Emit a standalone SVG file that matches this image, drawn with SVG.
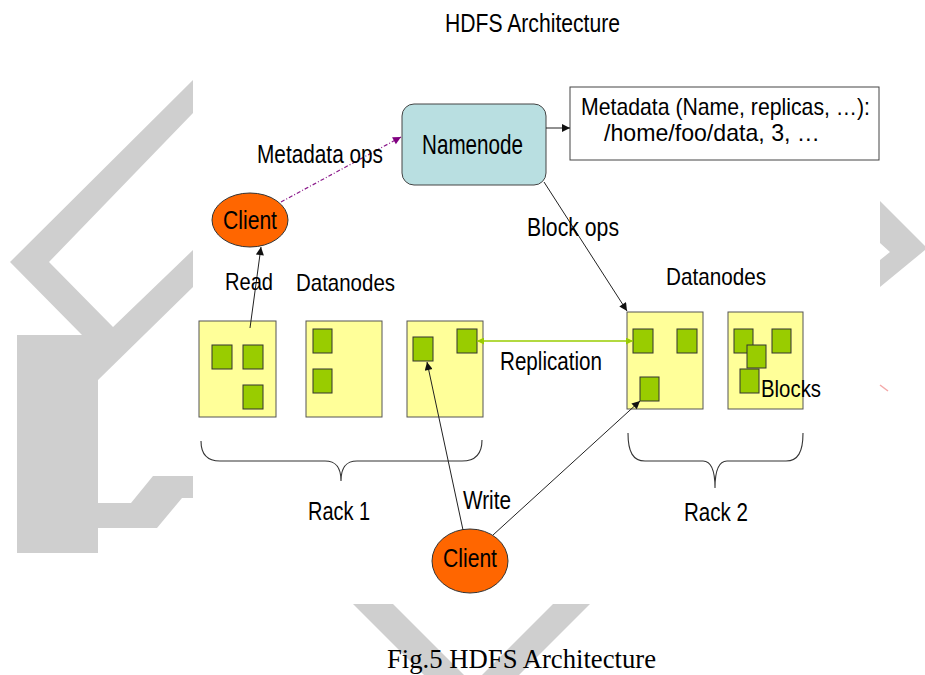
<svg xmlns="http://www.w3.org/2000/svg" width="925" height="675" viewBox="0 0 925 675">
<defs>
<style>
.wm{fill:#cfcfcf}
.lbl{font-family:"Liberation Sans",Arial,sans-serif;fill:#000}
.cap{font-family:"Liberation Serif","Times New Roman",serif;fill:#000}
.dn{fill:#ffff99;stroke:#555;stroke-width:1}
.blk{fill:#99cc00;stroke:#333;stroke-width:1}
.cl{fill:#ff6600;stroke:#333;stroke-width:1}
.ln{fill:none;stroke:#222;stroke-width:1}
.brace{fill:none;stroke:#333;stroke-width:1.1}
</style>
<marker id="ah" viewBox="0 0 10 10" refX="10" refY="5" markerWidth="10" markerHeight="8" markerUnits="userSpaceOnUse" orient="auto"><path d="M0,0 L10,5 L0,10 z" fill="#111"/></marker>
<marker id="ahp" viewBox="0 0 10 10" refX="10" refY="5" markerWidth="10" markerHeight="8" markerUnits="userSpaceOnUse" orient="auto"><path d="M0,0 L10,5 L0,10 z" fill="#800080"/></marker>
<marker id="ahg" viewBox="0 0 10 10" refX="10" refY="5" markerWidth="9" markerHeight="7" markerUnits="userSpaceOnUse" orient="auto-start-reverse"><path d="M0,0 L10,5 L0,10 z" fill="#99cc00"/></marker>
</defs>
<rect width="925" height="675" fill="#fff"/>
<g id="watermark">
<polygon class="wm" points="193,80 193,113 49,262 113,327 193,250 193,287 98,380 98,503 131,503 153,476 193,476 193,498 182,498 157,528 98,528 98,553 17,553 17,335 82,335 10,262"/>
<polygon class="wm" points="880,201 925,246 925,250 880,287 880,260 890,252 880,243"/>
<polygon class="wm" points="353,604 393,604 464,675 424,675"/>
<polygon class="wm" points="553,604 590,604 519,675 482,675"/>
<line x1="880" y1="385" x2="888" y2="391" stroke="#f4a8a8" stroke-width="1.5"/>
</g>
<text class="lbl" x="445" y="32" font-size="26" textLength="175" lengthAdjust="spacingAndGlyphs">HDFS Architecture</text>
<g id="namenode">
<rect x="402" y="104" width="144" height="81" rx="12" ry="12" fill="#b9dfe1" stroke="#444" stroke-width="1"/>
<text class="lbl" x="422" y="154" font-size="28" textLength="101" lengthAdjust="spacingAndGlyphs">Namenode</text>
</g>
<g id="metadata">
<rect x="570" y="87" width="309" height="73" fill="#fff" stroke="#444" stroke-width="1"/>
<text class="lbl" x="581" y="115" font-size="24" textLength="289" lengthAdjust="spacingAndGlyphs">Metadata (Name, replicas, …):</text>
<text class="lbl" x="604" y="141" font-size="24" textLength="216" lengthAdjust="spacingAndGlyphs">/home/foo/data, 3, …</text>
</g>
<g id="client1">
<ellipse class="cl" cx="250" cy="220" rx="38" ry="27"/>
<text class="lbl" x="223" y="229" font-size="26" textLength="54" lengthAdjust="spacingAndGlyphs">Client</text>
</g>
<g id="client2">
<ellipse class="cl" cx="470" cy="561" rx="38" ry="32"/>
<text class="lbl" x="443" y="567" font-size="26" textLength="54" lengthAdjust="spacingAndGlyphs">Client</text>
</g>
<g id="datanode1">
<rect class="dn" x="199" y="321" width="77" height="96"/>
<rect class="blk" x="212" y="345" width="20" height="24"/>
<rect class="blk" x="243" y="345" width="20" height="24"/>
<rect class="blk" x="243" y="385" width="20" height="24"/>
</g>
<g id="datanode2">
<rect class="dn" x="306" y="321" width="76" height="96"/>
<rect class="blk" x="313" y="329" width="19" height="24"/>
<rect class="blk" x="313" y="369" width="19" height="24"/>
</g>
<g id="datanode3">
<rect class="dn" x="407" y="321" width="76" height="96"/>
<rect class="blk" x="413" y="337" width="20" height="24"/>
<rect class="blk" x="457" y="329" width="20" height="24"/>
</g>
<g id="datanode4">
<rect class="dn" x="627" y="312" width="76" height="97"/>
<rect class="blk" x="633" y="329" width="20" height="24"/>
<rect class="blk" x="677" y="329" width="20" height="24"/>
<rect class="blk" x="640" y="377" width="19" height="24"/>
</g>
<g id="datanode5">
<rect class="dn" x="728" y="312" width="75" height="97"/>
<rect class="blk" x="734" y="329" width="19" height="24"/>
<rect class="blk" x="772" y="329" width="19" height="24"/>
<rect class="blk" x="747" y="345" width="19" height="23"/>
<rect class="blk" x="740" y="369" width="19" height="24"/>
</g>
<g id="rack1">
<path class="brace" d="M201,441 C201,455 208,461 220,461 L325,461 C335,461 341,466 341,481 C341,466 347,461 357,461 L462,461 C474,461 482,455 482,440"/>
<text class="lbl" x="308" y="520" font-size="25" textLength="62" lengthAdjust="spacingAndGlyphs">Rack 1</text>
</g>
<g id="rack2">
<path class="brace" d="M628,433 C628,452 633,461 645,461 L703,461 C711,461 715,470 715,488 C715,470 719,461 727,461 L786,461 C798,461 803,452 803,433"/>
<text class="lbl" x="684" y="521" font-size="25" textLength="64" lengthAdjust="spacingAndGlyphs">Rack 2</text>
</g>
<g id="connectors">
<line x1="281" y1="202" x2="401" y2="137" stroke="#8b1a8b" stroke-width="1.2" stroke-dasharray="4,2,1,2" marker-end="url(#ahp)"/>
<line class="ln" x1="546" y1="128" x2="570" y2="128" marker-end="url(#ah)"/>
<line class="ln" x1="544" y1="182" x2="627" y2="311" marker-end="url(#ah)"/>
<line class="ln" x1="250" y1="328" x2="261" y2="247" marker-end="url(#ah)"/>
<line x1="477" y1="341" x2="633" y2="341" stroke="#99cc00" stroke-width="1.5" marker-start="url(#ahg)" marker-end="url(#ahg)"/>
<line class="ln" x1="463" y1="530" x2="427" y2="362" marker-end="url(#ah)"/>
<line class="ln" x1="493" y1="535" x2="640" y2="401" marker-end="url(#ah)"/>
</g>
<g id="labels">
<text class="lbl" x="257" y="163" font-size="26" textLength="126" lengthAdjust="spacingAndGlyphs">Metadata ops</text>
<text class="lbl" x="527" y="236" font-size="25" textLength="92" lengthAdjust="spacingAndGlyphs">Block ops</text>
<text class="lbl" x="225" y="290" font-size="24" textLength="48" lengthAdjust="spacingAndGlyphs">Read</text>
<text class="lbl" x="296" y="291" font-size="24" textLength="99" lengthAdjust="spacingAndGlyphs">Datanodes</text>
<text class="lbl" x="666" y="285" font-size="24" textLength="100" lengthAdjust="spacingAndGlyphs">Datanodes</text>
<text class="lbl" x="500" y="370" font-size="25" textLength="102" lengthAdjust="spacingAndGlyphs">Replication</text>
<text class="lbl" x="761" y="397" font-size="24" textLength="60" lengthAdjust="spacingAndGlyphs">Blocks</text>
<text class="lbl" x="463" y="509" font-size="25" textLength="48" lengthAdjust="spacingAndGlyphs">Write</text>
</g>
<text class="cap" x="387" y="668" font-size="26.5" textLength="269" lengthAdjust="spacingAndGlyphs">Fig.5 HDFS Architecture</text>
</svg>
